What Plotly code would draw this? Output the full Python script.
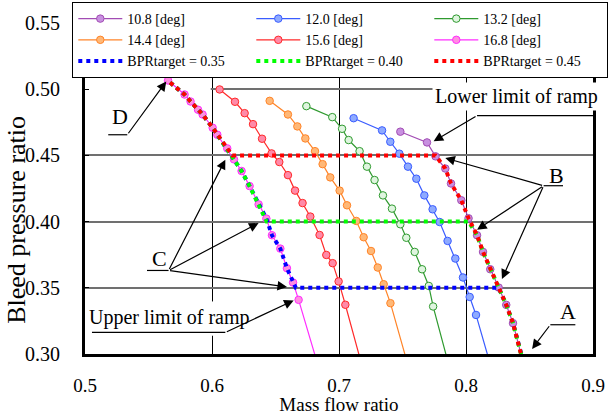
import plotly.graph_objects as go

# ---------------- data ----------------
angle_labels = ["10.8 [deg]", "12.0 [deg]", "13.2 [deg]", "14.4 [deg]", "15.6 [deg]", "16.8 [deg]"]

mfr_108 = [0.7483, 0.7693, 0.7760, 0.7837, 0.7882, 0.7963, 0.8020, 0.8087, 0.8134, 0.8191, 0.8257, 0.8317, 0.8370, 0.8487]
bpr_108 = [0.4679, 0.4598, 0.4493, 0.4401, 0.4288, 0.4161, 0.4025, 0.3897, 0.3771, 0.3640, 0.3502, 0.3371, 0.3233, 0.2800]

mfr_120 = [0.7115, 0.7339, 0.7404, 0.7475, 0.7543, 0.7609, 0.7672, 0.7737, 0.7792, 0.7855, 0.7916, 0.7976, 0.8029, 0.8079, 0.8228]
bpr_120 = [0.4781, 0.4689, 0.4603, 0.4513, 0.4415, 0.4324, 0.4198, 0.4093, 0.3997, 0.3854, 0.3721, 0.3578, 0.3431, 0.3295, 0.2800]

mfr_132 = [0.6743, 0.6947, 0.7024, 0.7076, 0.7162, 0.7220, 0.7280, 0.7346, 0.7417, 0.7483, 0.7530, 0.7596, 0.7654, 0.7707, 0.7741, 0.7897]
bpr_132 = [0.4872, 0.4789, 0.4701, 0.4616, 0.4532, 0.4415, 0.4314, 0.4198, 0.4098, 0.3980, 0.3878, 0.3771, 0.3640, 0.3514, 0.3359, 0.2800]

mfr_144 = [0.6454, 0.6598, 0.6672, 0.6735, 0.6811, 0.6871, 0.6931, 0.7005, 0.7063, 0.7136, 0.7194, 0.7252, 0.7305, 0.7352, 0.7405, 0.7577]
bpr_144 = [0.4912, 0.4809, 0.4719, 0.4628, 0.4532, 0.4434, 0.4334, 0.4234, 0.4123, 0.4005, 0.3882, 0.3778, 0.3653, 0.3527, 0.3384, 0.2800]

mfr_156 = [0.6060, 0.6181, 0.6257, 0.6323, 0.6394, 0.6469, 0.6530, 0.6598, 0.6654, 0.6713, 0.6774, 0.6847, 0.6900, 0.6950, 0.6997, 0.7050, 0.7213]
bpr_156 = [0.4998, 0.4905, 0.4819, 0.4736, 0.4626, 0.4515, 0.4450, 0.4351, 0.4234, 0.4140, 0.4038, 0.3899, 0.3748, 0.3686, 0.3548, 0.3372, 0.2800]

mfr_168 = [0.5654, 0.5784, 0.5831, 0.5890, 0.5926, 0.6005, 0.6042, 0.6120, 0.6173, 0.6233, 0.6296, 0.6367, 0.6428, 0.6472, 0.6538, 0.6590, 0.6638, 0.6682, 0.6870]
bpr_168 = [0.5066, 0.4960, 0.4907, 0.4845, 0.4809, 0.4709, 0.4656, 0.4553, 0.4470, 0.4382, 0.4268, 0.4130, 0.4023, 0.3897, 0.3796, 0.3648, 0.3540, 0.3409, 0.2800]

target_labels = ["BPRtarget = 0.35", "BPRtarget = 0.40", "BPRtarget = 0.45"]

mfr_t035 = [0.5670, 0.5784, 0.5831, 0.5890, 0.5926, 0.6005, 0.6042, 0.6120, 0.6173, 0.6233, 0.6296, 0.6367, 0.6428, 0.6472, 0.6538, 0.6590, 0.6638, 0.6660, 0.8257, 0.8317, 0.8370, 0.8430, 0.8450]
bpr_t035 = [0.5050, 0.4960, 0.4907, 0.4845, 0.4809, 0.4709, 0.4656, 0.4553, 0.4470, 0.4382, 0.4268, 0.4130, 0.4023, 0.3897, 0.3796, 0.3648, 0.3540, 0.3500, 0.3500, 0.3371, 0.3233, 0.3012, 0.2950]

mfr_t040 = [0.5670, 0.5784, 0.5831, 0.5890, 0.5926, 0.6005, 0.6042, 0.6120, 0.6173, 0.6233, 0.6296, 0.6367, 0.6430, 0.8020, 0.8087, 0.8134, 0.8191, 0.8257, 0.8317, 0.8370, 0.8430, 0.8450]
bpr_t040 = [0.5050, 0.4960, 0.4907, 0.4845, 0.4809, 0.4709, 0.4656, 0.4553, 0.4470, 0.4382, 0.4268, 0.4130, 0.4000, 0.4000, 0.3897, 0.3771, 0.3640, 0.3502, 0.3371, 0.3233, 0.3012, 0.2950]

mfr_t045 = [0.5670, 0.5784, 0.5831, 0.5890, 0.5926, 0.6005, 0.6042, 0.6120, 0.6160, 0.7760, 0.7837, 0.7882, 0.7963, 0.8020, 0.8087, 0.8134, 0.8191, 0.8257, 0.8317, 0.8370, 0.8430, 0.8450]
bpr_t045 = [0.5050, 0.4960, 0.4907, 0.4845, 0.4809, 0.4709, 0.4656, 0.4553, 0.4500, 0.4500, 0.4401, 0.4288, 0.4161, 0.4025, 0.3897, 0.3771, 0.3640, 0.3502, 0.3371, 0.3233, 0.3012, 0.2950]

x_ticks = [0.5, 0.6, 0.7, 0.8, 0.9]
y_ticks = [0.30, 0.35, 0.40, 0.45, 0.50, 0.55]

# ---------------- styles ----------------
angle_series = [
    (mfr_108, bpr_108, "#a24cb4", "#c890e0"),
    (mfr_120, bpr_120, "#3a5cff", "#8eaaff"),
    (mfr_132, bpr_132, "#2f9a2f", "#dff5df"),
    (mfr_144, bpr_144, "#ff8428", "#ffb877"),
    (mfr_156, bpr_156, "#ff2a2a", "#ff8aa8"),
    (mfr_168, bpr_168, "#ff2cff", "#ff8ee0"),
]
target_series = [
    (mfr_t035, bpr_t035, "#0000ff"),
    (mfr_t040, bpr_t040, "#00ff00"),
    (mfr_t045, bpr_t045, "#ff0000"),
]

fig = go.Figure()
for (xs, ys, lc, fc), name in zip(angle_series, angle_labels):
    fig.add_trace(go.Scatter(
        x=xs, y=ys, mode="lines+markers", name=name,
        line=dict(color=lc, width=1.2),
        marker=dict(symbol="circle", size=7.5, color=fc, line=dict(color=lc, width=1)),
    ))
for (xs, ys, c), name in zip(target_series, target_labels):
    fig.add_trace(go.Scatter(
        x=xs, y=ys, mode="lines", name=name,
        line=dict(color=c, width=4, dash="4px,4px"),
    ))

FONT = "Liberation Serif"

# ---------------- annotations ----------------
def label(x, y, text, size=20, bg=None, pad=1):
    d = dict(x=x, y=y, xref="x", yref="y", text=text, showarrow=False,
             xanchor="center", yanchor="middle",
             font=dict(family=FONT, size=size, color="black"), borderpad=pad)
    if bg:
        d["bgcolor"] = bg
    return d

def arrow(tail, tip):
    return dict(x=tip[0], y=tip[1], xref="x", yref="y",
                ax=tail[0], ay=tail[1], axref="x", ayref="y",
                text="", showarrow=True, arrowhead=2, arrowsize=1.6,
                arrowwidth=1.2, arrowcolor="black", standoff=0, startstandoff=0)

def uline(x0, x1, y):
    return dict(type="line", xref="x", yref="y", x0=x0, x1=x1, y0=y, y1=y,
                line=dict(color="black", width=1.2), layer="above")

annotations = [
    # y-axis title, centred on the visible part of the frame as in the reference
    dict(x=-0.134, y=0.405, xref="paper", yref="paper", text="Bleed pressure ratio",
         textangle=-90, showarrow=False, xanchor="center", yanchor="middle",
         font=dict(family=FONT, size=26, color="black")),
    label(0.5278, 0.4792, "D", size=22),
    arrow((0.5333, 0.4656), (0.5640, 0.5059)),
    label(0.8400, 0.4943, "Lower limit of ramp", size=20, bg="white", pad=2),
    arrow((0.8087, 0.4800), (0.7745, 0.4606)),
    label(0.8711, 0.4347, "B", size=22),
    arrow((0.8611, 0.4271), (0.7837, 0.4480)),
    arrow((0.8611, 0.4271), (0.8087, 0.3939)),
    arrow((0.8611, 0.4271), (0.8283, 0.3566)),
    label(0.5587, 0.3720, "C", size=22),
    arrow((0.5658, 0.3631), (0.6105, 0.4468)),
    arrow((0.5658, 0.3631), (0.6367, 0.3989)),
    arrow((0.5658, 0.3631), (0.6591, 0.3506)),
    label(0.5665, 0.3274, "Upper limit of ramp", size=20),
    arrow((0.6105, 0.3163), (0.6643, 0.3405)),
    label(0.8802, 0.3322, "A", size=22),
    arrow((0.8664, 0.3221), (0.8520, 0.3038)),
]

shapes = [
    # white patches hiding grid lines behind labels
    dict(type="rect", xref="x", yref="y", x0=0.5, x1=0.599, y0=0.4965, y1=0.5035,
         fillcolor="white", line=dict(width=0), layer="between"),
    dict(type="rect", xref="x", yref="y", x0=0.597, x1=0.603, y0=0.3138, y1=0.3397,
         fillcolor="white", line=dict(width=0), layer="between"),
    # thick frame line under the legend
    dict(type="line", xref="x", yref="y", x0=0.5, x1=0.9, y0=0.5147, y1=0.5147,
         line=dict(color="black", width=3), layer="above"),
    uline(0.5183, 0.5333, 0.4656),
    uline(0.8087, 0.9000, 0.4800),
    uline(0.8611, 0.8764, 0.4271),
    uline(0.5488, 0.5658, 0.3631),
    uline(0.5055, 0.6105, 0.3163),
    uline(0.8664, 0.8861, 0.3221),
]

fig.update_layout(
    width=611, height=415,
    margin=dict(l=85, r=18, t=23, b=61, autoexpand=False),
    paper_bgcolor="white", plot_bgcolor="white",
    font=dict(family=FONT, size=20, color="black"),
    showlegend=True,
    legend=dict(orientation="h", x=-0.025, xanchor="left", y=1.0634, yanchor="top",
                bgcolor="white", bordercolor="black", borderwidth=1,
                font=dict(family=FONT, size=14, color="black"),
                itemwidth=44, entrywidth=119, entrywidthmode="pixels",
                traceorder="normal"),
    xaxis=dict(range=[0.5, 0.9], tickvals=x_ticks, tickformat=".1f",
               showgrid=True, gridcolor="black", gridwidth=1,
               showline=True, linecolor="black", linewidth=3,
               ticks="inside", ticklen=4, tickcolor="black", zeroline=False,
               ticklabelstandoff=12, tickfont=dict(family=FONT, size=19),
               title=dict(text="Mass flow ratio", font=dict(family=FONT, size=19), standoff=6)),
    yaxis=dict(range=[0.3, 0.55], tickvals=y_ticks, tickformat=".2f",
               showgrid=True, gridcolor="#707070", gridwidth=1.5,
               showline=True, linecolor="black", linewidth=3, mirror=True,
               ticks="inside", ticklen=4, tickcolor="black", zeroline=False,
               ticklabelstandoff=18, tickfont=dict(family=FONT, size=20)),
    annotations=annotations,
    shapes=shapes,
)

fig.write_html("out.html")
